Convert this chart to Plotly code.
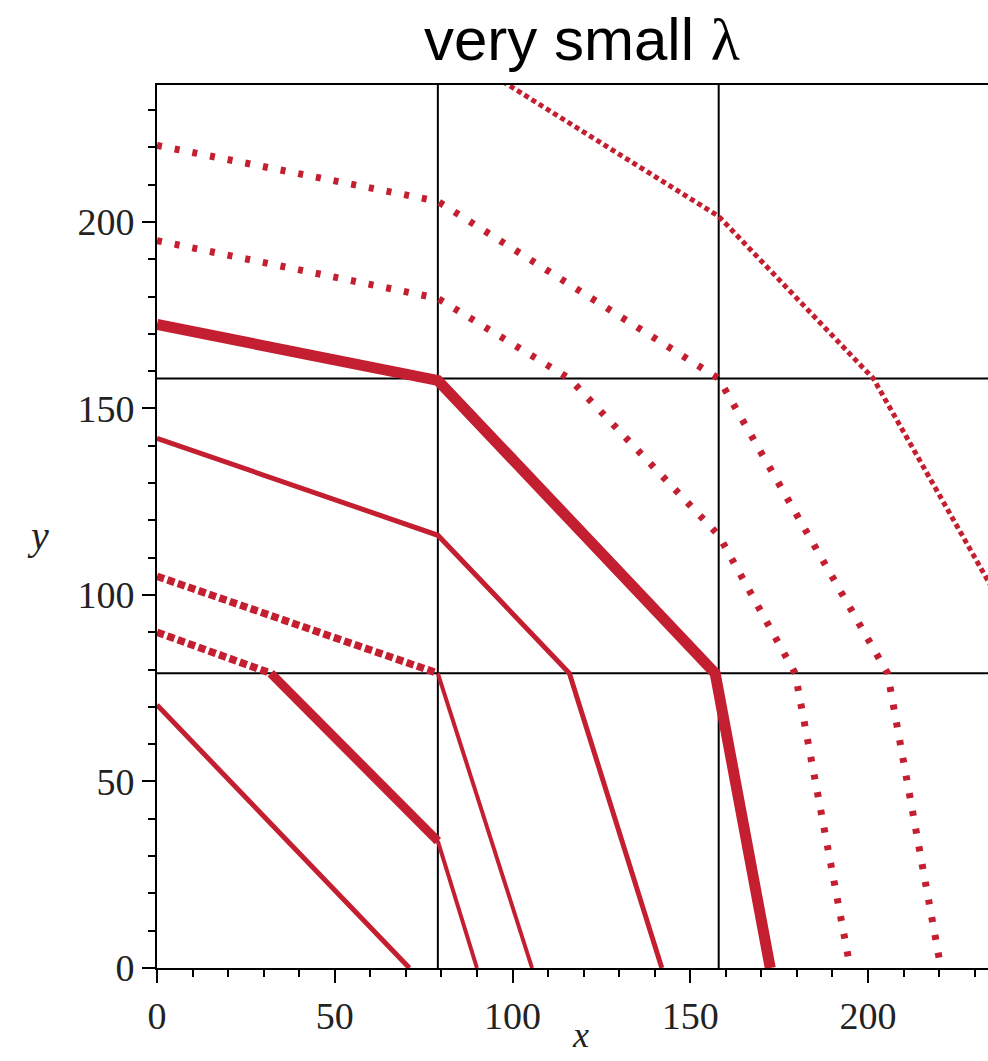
import plotly.graph_objects as go

# ---- level curves: vertices of each piecewise-linear contour ----
f_x = [0, 71]
f_y = [70.5, 0]

e_x = [0, 32, 79, 90]
e_y = [90, 79, 34, 0]

d_x = [0, 79, 105.5]
d_y = [105, 79, 0]

c_x = [0, 79, 116, 142]
c_y = [142, 116, 79, 0]

t_x = [0, 79, 157, 172.5]
t_y = [172.5, 157.5, 79, 0]

b_x = [0, 79, 116, 158, 179.5, 195]
b_y = [195, 179.5, 158, 116, 79, 0]

a_x = [0, 79, 158, 205.5, 220.5]
a_y = [220.5, 205.5, 158, 79, 0]

g_x = [79, 158, 201.5, 248.5]
g_y = [248.5, 201.5, 158, 79]

# breakpoints of the piecewise weights (drawn as reference lines)
break_x = [79, 158]
break_y = [79, 158]

# tick values
x_ticks = [0, 50, 100, 150, 200]
y_ticks = [0, 50, 100, 150, 200]

RED = "#c41f30"

STYLES = {
    "thin":   dict(color=RED, width=4),
    "line":   dict(color=RED, width=5),
    "heavy":  dict(color=RED, width=9),
    "bold":   dict(color=RED, width=11),
    "dots":   dict(color=RED, width=7, dash="5px,13px"),
    "blocks": dict(color=RED, width=7.5, dash="7.5px,3.5px"),
    "fine":   dict(color=RED, width=5, dash="5px,3.5px"),
}

curves = [
    (f_x, f_y, ["line"]),
    (e_x, e_y, ["blocks", "heavy", "thin"]),
    (d_x, d_y, ["blocks", "thin"]),
    (c_x, c_y, ["line", "line", "line"]),
    (t_x, t_y, ["bold", "bold", "bold"]),
    (b_x, b_y, ["dots"] * 5),
    (a_x, a_y, ["dots"] * 4),
    (g_x, g_y, ["fine"] * 3),
]

fig = go.Figure()

for xs, ys, seg_styles in curves:
    # group consecutive segments sharing a style into one trace
    start = 0
    for i in range(1, len(seg_styles) + 1):
        if i == len(seg_styles) or seg_styles[i] != seg_styles[start]:
            fig.add_trace(go.Scatter(
                x=xs[start:i + 1], y=ys[start:i + 1],
                mode="lines", line=STYLES[seg_styles[start]],
                hoverinfo="skip", showlegend=False,
            ))
            start = i

for bx in break_x:
    fig.add_vline(x=bx, line=dict(color="black", width=2), layer="below")
for by in break_y:
    fig.add_hline(y=by, line=dict(color="black", width=2), layer="below")

tick_font = dict(family="Liberation Serif", size=38, color="#222")

axis_common = dict(
    showgrid=False, zeroline=False,
    showline=True, linecolor="black", linewidth=2,
    ticks="outside", ticklen=13, tickwidth=2, tickcolor="black",
    tickfont=tick_font,
    minor=dict(ticks="outside", ticklen=7, tickwidth=2, tickcolor="black", dtick=10),
)

fig.update_xaxes(range=[0, 233.75], tickvals=x_ticks, mirror=True, **axis_common)
fig.update_yaxes(range=[0, 236.7], tickvals=y_ticks, mirror=False, **axis_common)

fig.add_annotation(
    text="very small <span style='font-family:Liberation Serif'>λ</span>",
    xref="paper", yref="paper", x=0.512, y=1.0513,
    xanchor="center", yanchor="middle", showarrow=False,
    font=dict(family="Liberation Sans", size=60, color="black"),
)
fig.add_annotation(
    text="<i>x</i>", xref="paper", yref="paper", x=0.510, y=-0.076,
    xanchor="center", yanchor="middle", showarrow=False,
    font=dict(family="Liberation Serif", size=36, color="#222"),
)
fig.add_annotation(
    text="<i>y</i>", xref="paper", yref="paper", x=-0.143, y=0.49,
    xanchor="center", yanchor="middle", showarrow=False,
    font=dict(family="Liberation Serif", size=40, color="#222"),
)

fig.update_layout(
    width=988, height=1061,
    margin=dict(l=157, r=0, t=85, b=93, pad=0),
    plot_bgcolor="white", paper_bgcolor="white",
)

fig.write_html("out.html")
